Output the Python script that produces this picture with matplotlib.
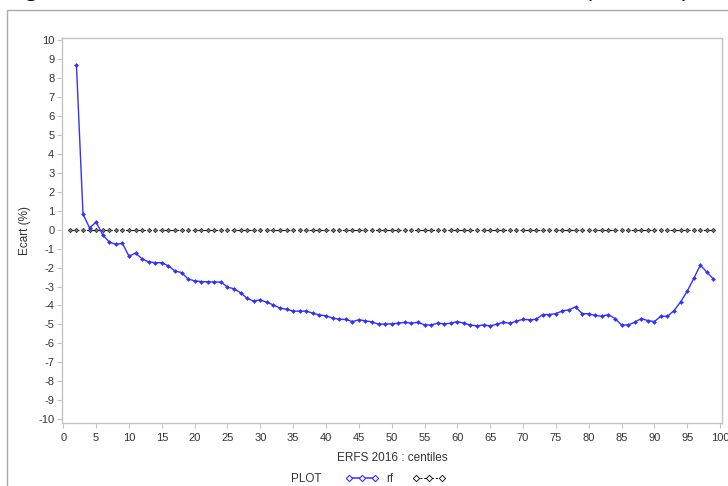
import matplotlib
matplotlib.use("Agg")
import matplotlib.pyplot as plt
from matplotlib.lines import Line2D
from matplotlib.patches import Rectangle

plt.rcParams['font.family'] = ['Liberation Sans', 'DejaVu Sans']
plt.rcParams['axes.unicode_minus'] = False

# --- data ---
centiles = list(range(2, 100))
rf_values = [
    8.70, 0.82, 0.10, 0.40, -0.27, -0.65, -0.77, -0.72, -1.40, -1.23,    # 2-11
    -1.54, -1.70, -1.74, -1.74, -1.91, -2.18, -2.26, -2.60, -2.70, -2.74,  # 12-21
    -2.75, -2.76, -2.76, -3.03, -3.12, -3.33, -3.63, -3.77, -3.70, -3.84,  # 22-31
    -3.97, -4.14, -4.20, -4.30, -4.30, -4.30, -4.41, -4.50, -4.55, -4.66,  # 32-41
    -4.73, -4.74, -4.85, -4.76, -4.81, -4.87, -4.99, -4.98, -4.97, -4.94,  # 42-51
    -4.89, -4.94, -4.89, -5.03, -5.03, -4.94, -4.97, -4.94, -4.85, -4.94,  # 52-61
    -5.03, -5.08, -5.03, -5.08, -4.99, -4.89, -4.94, -4.83, -4.73, -4.76,  # 62-71
    -4.73, -4.48, -4.48, -4.43, -4.29, -4.23, -4.07, -4.43, -4.44, -4.53,  # 72-81
    -4.57, -4.48, -4.69, -5.03, -5.03, -4.89, -4.69, -4.80, -4.85, -4.57,  # 82-91
    -4.57, -4.27, -3.81, -3.25, -2.57, -1.87, -2.24, -2.61,                # 92-99
]
ref_centiles = list(range(1, 100))
ref_values = [0.0] * 99

x_ticks = list(range(0, 101, 5))
y_ticks = list(range(-10, 11))

BLUE = '#3232ff'
TXT = '#333333'
GRID = '#c4c4c4'

fig = plt.figure(figsize=(7.28, 4.86), dpi=100)

# outer frame of the exported graph (runs past the right/bottom edge)
fig.patches.append(Rectangle((7 / 728, -0.05), 1.1, (486 - 10) / 486 + 0.05,
                             transform=fig.transFigure, fill=False,
                             edgecolor='#aaaaaa', linewidth=1.0))

# cropped title line: only descenders are visible
for xp, ch in [(26, 'g'), (590, 'p'), (683, 'p')]:
    fig.text(xp / 728, 1 + 5 / 486, ch, fontsize=17, style='italic',
             family=['Open Sans', 'DejaVu Sans'], color='black',
             ha='left', va='baseline')

ax = fig.add_axes([62 / 728, 63 / 486, 660 / 728, 385 / 486])

ax.plot(ref_centiles, ref_values, color='black', linewidth=0.8,
        linestyle=(0, (3, 2)), marker='D', markersize=2.2,
        markerfacecolor='#777777', markeredgecolor='#222222',
        markeredgewidth=0.5, zorder=3)
ax.plot(centiles, rf_values, color=BLUE, linewidth=1.0,
        marker='D', markersize=2.0, markerfacecolor=BLUE,
        markeredgewidth=0.4, zorder=4)

ax.set_xlim(-0.2, 100.3)
ax.set_ylim(-10.21, 10.13)
ax.set_xticks(x_ticks)
ax.set_yticks(y_ticks)
ax.tick_params(axis='both', labelsize=8, colors=GRID, labelcolor=TXT,
               length=3.5, width=0.8, pad=2)
ax.tick_params(axis='x', pad=3.5)
for sp in ax.spines.values():
    sp.set_color(GRID)
    sp.set_linewidth(1.0)

ax.set_xlabel('ERFS 2016 : centiles', fontsize=8.5, color=TXT, labelpad=7)
ax.set_ylabel('Ecart (%)', fontsize=8.5, color=TXT, labelpad=5)

# legend
fig.text(306 / 728, 7 / 486, 'PLOT', fontsize=8.5, color=TXT,
         ha='center', va='center')
handles = [
    Line2D([], [], color=BLUE, linewidth=1.1, marker='D', markersize=3.2,
           markerfacecolor='white', markeredgewidth=0.8),
    Line2D([], [], color='black', linewidth=0.7, linestyle=(0, (2, 2)),
           marker='D', markersize=3.2, markerfacecolor='white',
           markeredgewidth=0.6),
]
fig.legend(handles, ['rf', ''], ncol=2, numpoints=3, frameon=False,
           loc='center left', bbox_to_anchor=(340 / 728, 7 / 486),
           fontsize=8.5, handlelength=2.8, handletextpad=0.6,
           columnspacing=1.6, borderpad=0, labelcolor=TXT)

fig.savefig('out.png', dpi=100)
